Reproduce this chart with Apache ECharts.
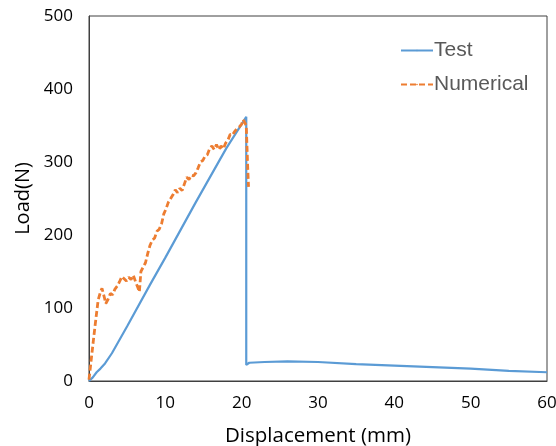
<!DOCTYPE html>
<html>
<head>
<meta charset="utf-8">
<script src="https://cdn.jsdelivr.net/npm/echarts@6/dist/echarts.min.js"></script>
<style>
  html, body { margin: 0; padding: 0; background: #fff; }
  #chart { width: 556px; height: 446px; }
</style>
</head>
<body>
<div id="chart"></div>
<script>
// Test curve (displacement mm, load N)
const testX = [0, 0.5, 1, 1.5, 2.1, 3, 5, 8, 10, 12, 14, 16, 18, 20, 20.6, 20.6, 21, 23, 26, 30, 35, 40, 45, 50, 55, 60];
const testY = [0, 5, 12, 17, 24, 38, 75, 132, 169, 207, 245, 282, 319, 352, 362, 22, 25, 26, 27, 26, 23, 21, 19, 17, 14, 12];

// Numerical curve
const numX = [0, 0.3, 0.6, 0.9, 1.2, 1.5, 1.7, 2.0, 2.2, 2.5, 2.8, 3.1, 3.4, 3.7, 4.0, 4.3, 4.6, 4.9, 5.2, 5.5, 5.8, 6.1, 6.4, 6.6, 6.8, 7.1, 7.4, 7.7, 8.0, 8.3, 8.6, 8.9, 9.2, 9.5, 9.8, 10.1, 10.4, 10.7, 11.0, 11.3, 11.6, 11.9, 12.2, 12.5, 12.8, 13.1, 13.4, 13.7, 14.0, 14.3, 14.6, 14.9, 15.2, 15.5, 15.8, 16.1, 16.4, 16.7, 17.0, 17.3, 17.6, 17.9, 18.2, 18.5, 18.8, 19.1, 19.4, 19.7, 20.0, 20.2, 20.4, 20.5, 20.6, 20.7, 20.8, 20.9];
const numY = [2, 30, 58, 85, 111, 122, 127, 115, 106, 112, 120, 118, 126, 130, 136, 143, 140, 137, 142, 139, 145, 136, 128, 122, 150, 156, 162, 175, 186, 193, 196, 205, 208, 215, 229, 236, 245, 250, 255, 262, 258, 264, 261, 270, 279, 276, 282, 281, 285, 292, 300, 302, 308, 310, 318, 322, 317, 324, 317, 322, 318, 326, 330, 338, 337, 342, 346, 348, 352, 358, 354, 356, 350, 320, 290, 266];

const xTicks = [0, 10, 20, 30, 40, 50, 60];
const yTicks = [0, 100, 200, 300, 400, 500];

const chart = echarts.init(document.getElementById('chart'));

const zip = (xs, ys) => xs.map((x, i) => [x, ys[i]]);

const option = {
  animation: false,
  grid: {
    left: 89, top: 16, right: 9, bottom: 65,
    outerBoundsMode: 'none',
    containLabel: false,
    show: true,
    borderColor: '#404040',
    borderWidth: 1
  },
  legend: {
    orient: 'vertical',
    left: 395,
    top: 35,
    itemWidth: 32,
    itemHeight: 2,
    itemGap: 13,
    data: ['Test', 'Numerical'],
    textStyle: { fontFamily: 'Liberation Sans', fontSize: 21, color: '#595959', padding: [0, 0, 0, -4] }
  },
  xAxis: {
    type: 'value',
    min: xTicks[0],
    max: xTicks[xTicks.length - 1],
    interval: 10,
    name: 'Displacement (mm)',
    nameLocation: 'middle',
    nameGap: 45,
    nameTextStyle: { fontFamily: 'Open Sans', fontSize: 20.5, color: '#000' },
    axisLine: { show: true, onZero: false, lineStyle: { color: '#404040' } },
    axisTick: { show: false },
    splitLine: { show: false },
    axisLabel: { fontFamily: 'Open Sans', fontSize: 17, color: '#000', margin: 14 }
  },
  yAxis: {
    type: 'value',
    min: yTicks[0],
    max: yTicks[yTicks.length - 1],
    interval: 100,
    name: 'Load(N)',
    nameLocation: 'middle',
    nameGap: 56,
    nameTextStyle: { fontFamily: 'Open Sans', fontSize: 20, color: '#000' },
    axisLine: { show: true, lineStyle: { color: '#404040' } },
    axisTick: { show: false },
    splitLine: { show: false },
    axisLabel: { fontFamily: 'Open Sans', fontSize: 17, color: '#000', margin: 16 }
  },
  series: [
    {
      name: 'Test',
      type: 'line',
      data: zip(testX, testY),
      symbol: 'none',
      lineStyle: { color: '#5B9BD5', width: 2.2 },
      itemStyle: { color: '#5B9BD5' },
      z: 2
    },
    {
      name: 'Numerical',
      type: 'line',
      data: zip(numX, numY),
      symbol: 'none',
      lineStyle: { color: '#ED7D31', width: 2.8, type: [6, 3] },
      itemStyle: { color: '#ED7D31' },
      z: 3
    }
  ]
};

chart.setOption(option);
</script>
</body>
</html>
